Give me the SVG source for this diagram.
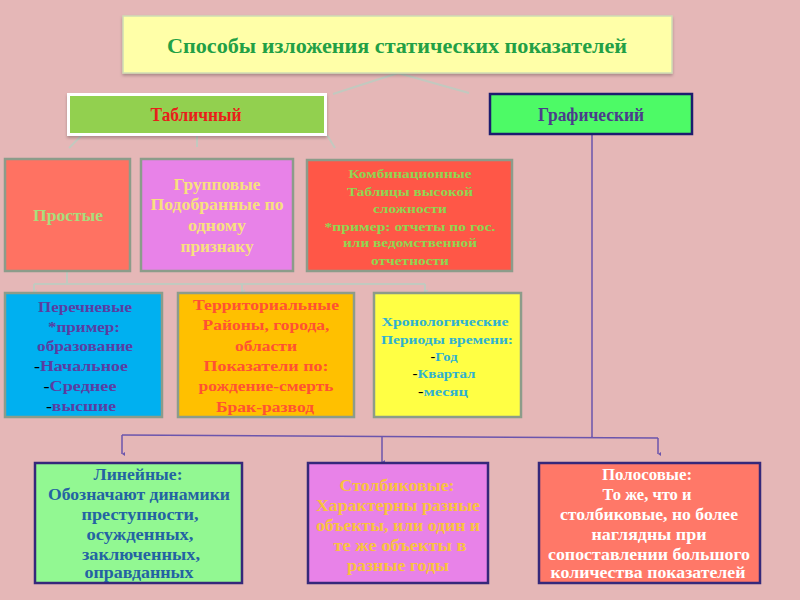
<svg xmlns="http://www.w3.org/2000/svg" width="800" height="600" viewBox="0 0 800 600">
<defs>
<style>
text{font-family:"Liberation Serif","Times New Roman",serif;font-weight:bold;text-anchor:middle}
.g{fill:none;stroke:#c2c9bf;stroke-width:2}
.p{fill:none;stroke:#6b55ad;stroke-width:1.5}
.b2{stroke:#8c9c8a;stroke-width:2.5}
.b4{stroke:#35287a;stroke-width:2.5}
.d{fill:#000}
</style>
<filter id="sh" x="-5%" y="-10%" width="110%" height="130%"><feDropShadow dx="0" dy="2" stdDeviation="1.5" flood-color="#000" flood-opacity="0.25"/></filter>
<marker id="ag" markerWidth="6" markerHeight="6" refX="3" refY="5" orient="auto" markerUnits="userSpaceOnUse"><path d="M1,2 L3,5 L5,2" fill="none" stroke="#c2c9bf" stroke-width="1.2"/></marker>
<marker id="ap" markerWidth="6" markerHeight="6" refX="3" refY="5" orient="auto" markerUnits="userSpaceOnUse"><path d="M1,2 L3,5 L5,2 Z" fill="#6b55ad"/></marker>
</defs>
<rect width="800" height="600" fill="#e5b7b7"/>

<g id="connectors">
<path class="g" d="M398,73 L333,94 M398,73 L469,93"/>
<path class="g" d="M82,135 L69,148 M197,135 L197,147 M327,135 L335,148"/>
<path class="g" d="M67,272 L67,284 M34,284 L425,284"/>
<path class="g" d="M34,284 L34,292" marker-end="url(#ag)"/>
<path class="g" d="M242,284 L242,292" marker-end="url(#ag)"/>
<path class="g" d="M425,284 L425,292" marker-end="url(#ag)"/>
<path class="p" d="M592,134 L592,437 M122,435 L658,438"/>
<path class="p" d="M122,435 L122,454" marker-end="url(#ap)"/>
<path class="p" d="M382,437 L382,462" marker-end="url(#ap)"/>
<path class="p" d="M658,438 L658,454" marker-end="url(#ap)"/>
</g>

<g id="title">
<rect x="123" y="16" width="549" height="57" fill="#ffffa8" stroke="#cfdcb4" stroke-width="1.5" filter="url(#sh)"/>
<text x="397" y="53" font-size="22" fill="#22a045" textLength="460" lengthAdjust="spacingAndGlyphs">Способы изложения статических показателей</text>
</g>

<g id="tabular">
<rect x="68.5" y="94.5" width="257" height="40" fill="#92d050" stroke="#ffffff" stroke-width="3" filter="url(#sh)"/>
<text x="196" y="121" font-size="19" fill="#e8201a" textLength="91" lengthAdjust="spacingAndGlyphs">Табличный</text>
</g>

<g id="graphic">
<rect x="490" y="94" width="202" height="40" fill="#4dfa66" stroke="#1c1c6e" stroke-width="2.5"/>
<text x="591" y="121" font-size="19" fill="#4b3c8c" textLength="106" lengthAdjust="spacingAndGlyphs">Графический</text>
</g>

<g id="simple">
<rect x="5" y="159" width="125" height="112" fill="#ff7262" class="b2"/>
<text x="68" y="221" font-size="17" fill="#a9dd7c" textLength="70" lengthAdjust="spacingAndGlyphs">Простые</text>
</g>

<g id="group">
<rect x="141" y="159" width="152" height="112" fill="#e882e8" class="b2"/>
<g font-size="16" fill="#f8e07e">
<text x="217" y="190" textLength="87" lengthAdjust="spacingAndGlyphs">Групповые</text>
<text x="217" y="210" textLength="133" lengthAdjust="spacingAndGlyphs">Подобранные по</text>
<text x="217" y="231" textLength="58" lengthAdjust="spacingAndGlyphs">одному</text>
<text x="217" y="252" textLength="73" lengthAdjust="spacingAndGlyphs">признаку</text>
</g>
</g>

<g id="combo">
<rect x="307" y="160" width="205" height="111" fill="#ff5747" class="b2"/>
<g font-size="13" fill="#8fd651">
<text x="410" y="178" textLength="123" lengthAdjust="spacingAndGlyphs">Комбинационные</text>
<text x="410" y="196" textLength="126" lengthAdjust="spacingAndGlyphs">Таблицы высокой</text>
<text x="410" y="213" textLength="74" lengthAdjust="spacingAndGlyphs">сложности</text>
<text x="410" y="231" textLength="171" lengthAdjust="spacingAndGlyphs">*пример: отчеты по гос.</text>
<text x="410" y="247" textLength="134" lengthAdjust="spacingAndGlyphs">или ведомственной</text>
<text x="410" y="265" textLength="78" lengthAdjust="spacingAndGlyphs">отчетности</text>
</g>
</g>

<g id="list">
<rect x="5" y="293" width="157" height="124" fill="#00b0f0" class="b2"/>
<g font-size="15" fill="#5a3ea2">
<text x="85" y="312" textLength="94" lengthAdjust="spacingAndGlyphs">Перечневые</text>
<text x="84" y="332" textLength="72" lengthAdjust="spacingAndGlyphs">*пример:</text>
<text x="85" y="351" textLength="96" lengthAdjust="spacingAndGlyphs">образование</text>
<text x="81" y="371" textLength="94" lengthAdjust="spacingAndGlyphs"><tspan class="d">-</tspan>Начальное</text>
<text x="80" y="391" textLength="73" lengthAdjust="spacingAndGlyphs"><tspan class="d">-</tspan>Среднее</text>
<text x="81" y="411" textLength="70" lengthAdjust="spacingAndGlyphs"><tspan class="d">-</tspan>высшие</text>
</g>
</g>

<g id="territorial">
<rect x="178" y="293" width="176" height="124" fill="#ffc000" class="b2"/>
<g font-size="15" fill="#ff5232">
<text x="266" y="310" textLength="146" lengthAdjust="spacingAndGlyphs">Территориальные</text>
<text x="266" y="330" textLength="127" lengthAdjust="spacingAndGlyphs">Районы, города,</text>
<text x="266" y="351" textLength="62" lengthAdjust="spacingAndGlyphs">области</text>
<text x="266" y="371" textLength="125" lengthAdjust="spacingAndGlyphs">Показатели по:</text>
<text x="266" y="391" textLength="135" lengthAdjust="spacingAndGlyphs">рождение-смерть</text>
<text x="265" y="412" textLength="98" lengthAdjust="spacingAndGlyphs">Брак-развод</text>
</g>
</g>

<g id="chrono">
<rect x="374" y="293" width="147" height="124" fill="#ffff44" class="b2"/>
<g font-size="12.5" fill="#2fb1d2">
<text x="445" y="326" textLength="127" lengthAdjust="spacingAndGlyphs">Хронологические</text>
<text x="447" y="344" textLength="132" lengthAdjust="spacingAndGlyphs">Периоды времени:</text>
<text x="444" y="361" textLength="27" lengthAdjust="spacingAndGlyphs"><tspan class="d">-</tspan>Год</text>
<text x="444" y="378" textLength="63" lengthAdjust="spacingAndGlyphs"><tspan class="d">-</tspan>Квартал</text>
<text x="443" y="396" textLength="50" lengthAdjust="spacingAndGlyphs"><tspan class="d">-</tspan>месяц</text>
</g>
</g>

<g id="linear">
<rect x="35" y="463" width="207" height="120" fill="#92f892" class="b4"/>
<g font-size="17" fill="#2463a3">
<text x="138" y="480" textLength="89" lengthAdjust="spacingAndGlyphs">Линейные:</text>
<text x="139" y="500" textLength="182" lengthAdjust="spacingAndGlyphs">Обозначают динамики</text>
<text x="140" y="520" textLength="117" lengthAdjust="spacingAndGlyphs">преступности,</text>
<text x="140" y="540" textLength="107" lengthAdjust="spacingAndGlyphs">осужденных,</text>
<text x="141" y="560" textLength="118" lengthAdjust="spacingAndGlyphs">заключенных,</text>
<text x="139" y="578" textLength="109" lengthAdjust="spacingAndGlyphs">оправданных</text>
</g>
</g>

<g id="column">
<rect x="308" y="463" width="180" height="120" fill="#e882e8" class="b4"/>
<g font-size="17" fill="#f9c23e">
<text x="397" y="491" textLength="115" lengthAdjust="spacingAndGlyphs">Столбиковые:</text>
<text x="398" y="511" textLength="164" lengthAdjust="spacingAndGlyphs">Характерны разные</text>
<text x="398" y="531" textLength="164" lengthAdjust="spacingAndGlyphs">объекты, или один и</text>
<text x="400" y="551" textLength="133" lengthAdjust="spacingAndGlyphs">те же  объекты в</text>
<text x="398" y="571" textLength="102" lengthAdjust="spacingAndGlyphs">разные годы</text>
</g>
</g>

<g id="bar">
<rect x="539" y="463" width="221" height="120" fill="#ff7868" class="b4"/>
<g font-size="17" fill="#ffffff">
<text x="647" y="480" textLength="90" lengthAdjust="spacingAndGlyphs">Полосовые:</text>
<text x="647" y="500" textLength="89" lengthAdjust="spacingAndGlyphs">То же, что и</text>
<text x="649" y="520" textLength="178" lengthAdjust="spacingAndGlyphs">столбиковые, но более</text>
<text x="649" y="540" textLength="115" lengthAdjust="spacingAndGlyphs">наглядны при</text>
<text x="649" y="560" textLength="202" lengthAdjust="spacingAndGlyphs">сопоставлении большого</text>
<text x="648" y="578" textLength="195" lengthAdjust="spacingAndGlyphs">количества показателей</text>
</g>
</g>
</svg>
